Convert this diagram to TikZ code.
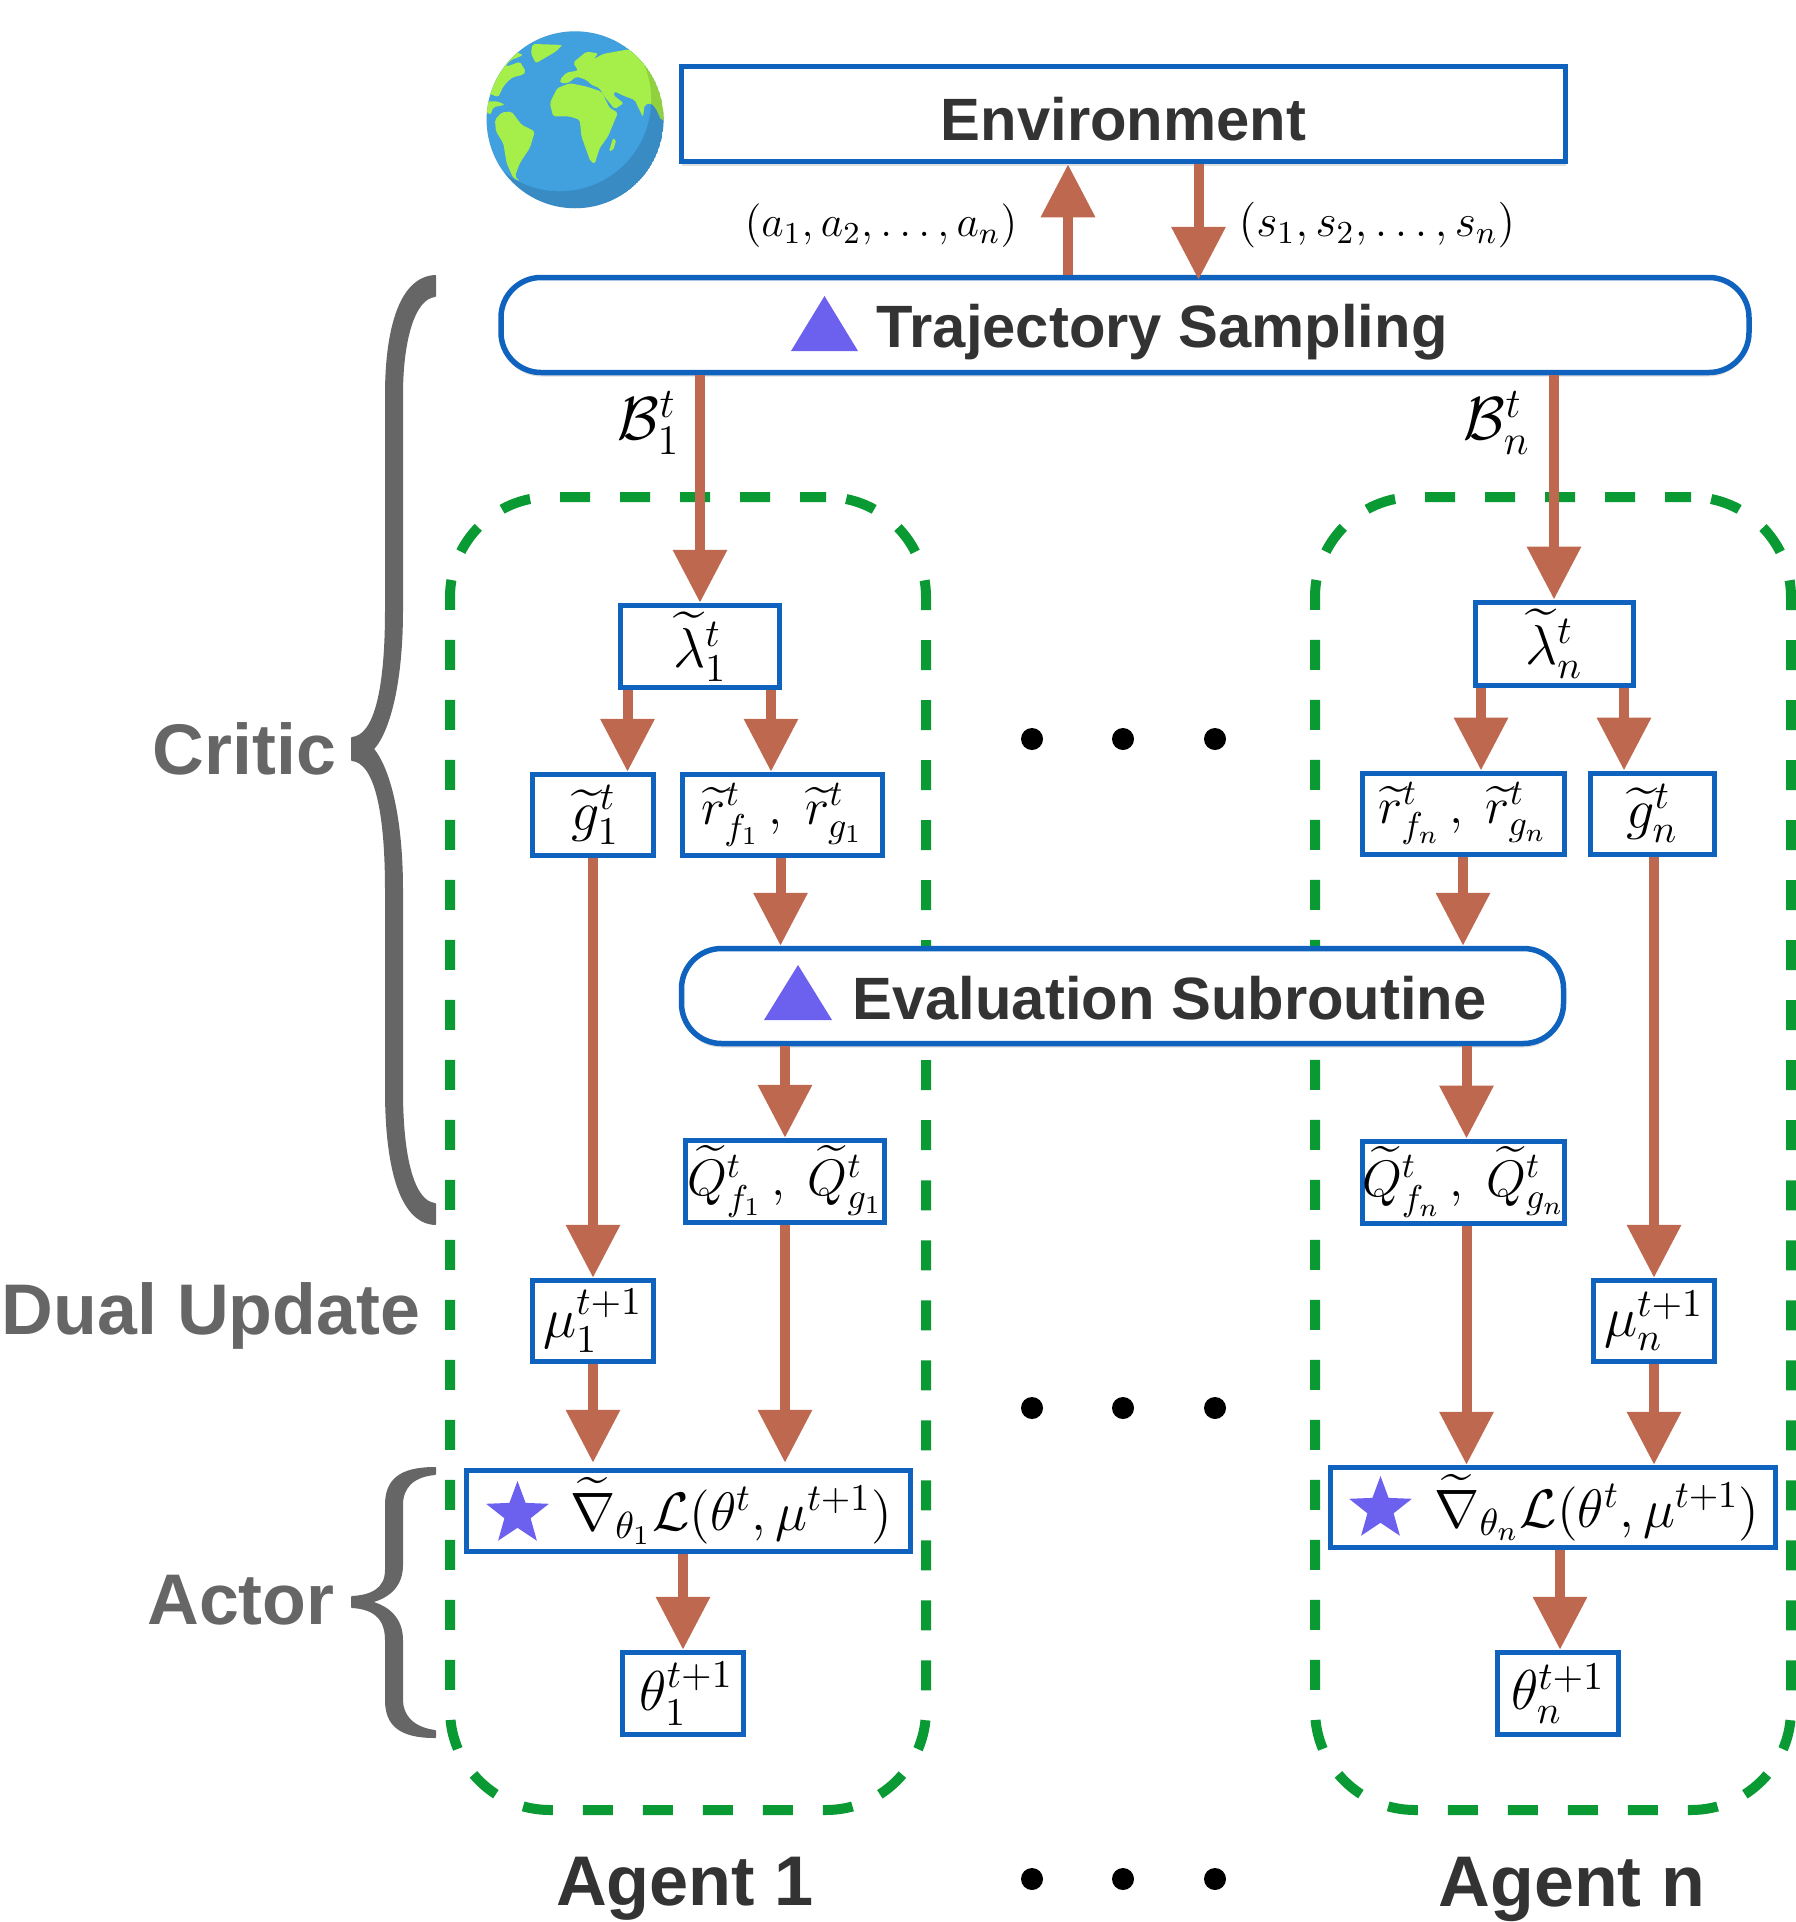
\documentclass[tikz,border=0pt]{standalone}
\usepackage{fix-cm}
\usepackage{amsmath, amssymb}
\usepackage[no-math]{fontspec}
\setmainfont{Liberation Sans}
\usepackage{tikz}
\usetikzlibrary{positioning, arrows.meta, shapes.geometric, shadows}
\usepackage{xcolor}

\definecolor{boxblue}{HTML}{0F63BE}
\definecolor{flowred}{HTML}{BF6850}
\definecolor{agentgreen}{HTML}{0A9A33}
\definecolor{titlegray}{HTML}{333333}
\definecolor{bracegray}{HTML}{666666}
\definecolor{markviolet}{HTML}{6C60EE}
\definecolor{oceanblue}{HTML}{41A0DE}
\definecolor{landgreen}{HTML}{A6EE49}

\tikzset{
    flow/.style={-{Triangle[length=5.3mm,width=5.2mm]}, line width=1mm, flowred},
    mathbox/.style={draw=boxblue, fill=white, line width=0.5mm, inner sep=0pt, font=\fontsize{16}{19}\selectfont},
    pairbox/.style={mathbox, font=\fontsize{14.6}{18}\selectfont},
    gradbox/.style={mathbox, font=\fontsize{15.4}{18}\selectfont},
    bigbox/.style={draw=boxblue, fill=white, line width=0.55mm, inner sep=0pt, text=titlegray,
        font=\fontsize{17}{20}\selectfont\bfseries, minimum height=0.95cm, text depth=0cm,
        drop shadow={shadow xshift=0cm, shadow yshift=-0.04cm, opacity=0.25}},
    agentbox/.style={draw=agentgreen, line width=1mm, rounded corners=1cm, inner sep=0pt,
        dash pattern=on 0.3cm off 0.3cm, dash phase=0.04cm, minimum width=4.76cm, minimum height=13.13cm},
    sidetitle/.style={text=bracegray, font=\fontsize{20.4}{24}\selectfont\bfseries},
    agenttitle/.style={text=titlegray, font=\fontsize{20.4}{24}\selectfont\bfseries},
    starmark/.style={star, star points=5, star point ratio=2.4, fill=markviolet, inner sep=0pt, minimum size=0.66cm},
}

\begin{document}
\begin{tikzpicture}[x=1cm, y=-1cm]
    \useasboundingbox (0,0) rectangle (17.96,19.22);

    % globe
    \begin{scope}[shift={(4.7,0.2)}, x=0.003333cm, y=-0.003333cm]
        \clip (316,300) circle (266);
        \fill[oceanblue] (316,300) circle (266);
        \begin{scope}[landgreen, rounded corners=0.02cm]
            \fill (0,270) -- (0,60) -- (185,60) -- (160,82) -- (135,95) -- (160,105) -- (145,112) -- (120,122) -- (107,140)
                -- (125,135) -- (150,125) -- (168,155) -- (160,165) -- (135,170) -- (120,178) -- (100,200) -- (85,232)
                -- (60,222) -- (52,245) -- (85,245) -- (105,255) -- (70,262) -- (62,285) -- (40,270) -- cycle;
            \fill (188,72) -- (278,75) -- (258,95) -- (198,130) -- (183,100) -- cycle;
            \fill (75,300) -- (95,278) -- (125,275) -- (155,315) -- (195,335) -- (180,385) -- (150,430) -- (135,470)
                -- (150,485) -- (130,475) -- (110,430) -- (100,370) -- (78,335) -- cycle;
            \fill (240,250) -- (262,205) -- (300,190) -- (350,200) -- (395,215) -- (420,265) -- (445,278) -- (415,350)
                -- (390,385) -- (375,432) -- (362,425) -- (335,350) -- (330,300) -- (300,290) -- (250,290) -- cycle;
            \fill (430,355) -- (440,360) -- (430,392) -- (418,395) -- cycle;
            \fill (270,180) -- (290,158) -- (325,152) -- (310,128) -- (350,95) -- (385,100) -- (372,118) -- (400,102)
                -- (478,88) -- (600,170) -- (600,300) -- (575,302) -- (560,268) -- (545,250) -- (525,255) -- (520,292)
                -- (495,240) -- (462,228) -- (435,215) -- (430,225) -- (462,250) -- (435,268) -- (400,225) -- (390,205)
                -- (365,195) -- (350,180) -- (320,170) -- (295,190) -- (272,190) -- cycle;
        \end{scope}
        \fill[black, opacity=0.12, even odd rule] (316,300) circle (266) (270,240) circle (275);
    \end{scope}

    % dashed agent groups
    \node[agentbox] (agent1) at (6.88,11.535) {};
    \node[agentbox] (agentn) at (15.53,11.535) {};

    % shared boxes
    \node[bigbox, minimum width=8.84cm, text height=0.52cm] (env) at (11.235,1.14) {Environment};
    \node[bigbox, minimum width=12.48cm, rounded corners=0.4cm, text height=0.44cm] (traj) at (11.25,3.25) {\hspace*{0.74cm}Trajectory Sampling};
    \node[bigbox, minimum width=8.82cm, rounded corners=0.4cm, text height=0.47cm] (eval) at (11.225,9.96) {\hspace*{0.94cm}Evaluation Subroutine};
    \fill[markviolet] (7.91,3.51) -- (8.58,3.51) -- (8.245,2.96) -- cycle;
    \fill[markviolet] (7.64,10.20) -- (8.32,10.20) -- (7.98,9.65) -- cycle;

    % agent 1
    \node[mathbox, minimum width=1.585cm, minimum height=0.825cm] (lambda1) at (7.00,6.465) {$\widetilde{\lambda}_1^t$};
    \node[mathbox, minimum width=1.215cm, minimum height=0.815cm] (g1) at (5.93,8.15) {\hspace*{0.05cm}$\widetilde{g}_1^t$};
    \node[pairbox, minimum width=2.005cm, minimum height=0.815cm] (r1) at (7.825,8.15) {$\widetilde{r}_{f_1}^t\,,\ \widetilde{r}_{g_1}^t$};
    \node[pairbox, minimum width=1.995cm, minimum height=0.825cm] (Q1) at (7.85,11.815) {$\widetilde{Q}_{f_1}^t\,,\ \widetilde{Q}_{g_1}^t$};
    \node[mathbox, minimum width=1.215cm, minimum height=0.815cm] (mu1) at (5.93,13.21) {$\mu_1^{t+1}$};
    \node[gradbox, minimum width=4.445cm, minimum height=0.815cm] (grad1) at (6.885,15.11)
        {\hspace*{0.85cm}$\widetilde{\nabla}_{\theta_1}\mathcal{L}(\theta^t, \mu^{t+1})$};
    \node[mathbox, minimum width=1.215cm, minimum height=0.825cm] (theta1) at (6.83,16.935) {\hspace*{0.07cm}$\theta_1^{t+1}$};
    \node[starmark] (star1) at (5.175,15.14) {};

    % agent n
    \node[mathbox, minimum width=1.58cm, minimum height=0.83cm] (lambdan) at (15.54,6.435) {$\widetilde{\lambda}_n^t$};
    \node[pairbox, minimum width=2.02cm, minimum height=0.81cm] (rn) at (14.63,8.135) {$\widetilde{r}_{f_n}^t\,,\ \widetilde{r}_{g_n}^t$};
    \node[mathbox, minimum width=1.24cm, minimum height=0.81cm] (gn) at (16.52,8.135) {$\widetilde{g}_n^t$};
    \node[pairbox, minimum width=2.01cm, minimum height=0.82cm] (Qn) at (14.635,11.82) {$\widetilde{Q}_{f_n}^t\,,\ \widetilde{Q}_{g_n}^t$};
    \node[mathbox, minimum width=1.215cm, minimum height=0.815cm] (mun) at (16.54,13.21) {$\mu_n^{t+1}$};
    \node[gradbox, minimum width=4.455cm, minimum height=0.805cm] (gradn) at (15.53,15.075)
        {\hspace*{0.88cm}$\widetilde{\nabla}_{\theta_n}\mathcal{L}(\theta^t, \mu^{t+1})$};
    \node[mathbox, minimum width=1.215cm, minimum height=0.825cm] (thetan) at (15.58,16.935) {$\theta_n^{t+1}$};
    \node[starmark] (starn) at (13.805,15.09) {};

    % sampling arrows
    \draw[flow] ([xshift=-0.57cm]traj.north) -- ([xshift=-0.57cm]traj.north |- env.south);
    \draw[flow, shorten >=-0.5mm] ([xshift=0.75cm]env.south) -- ([xshift=0.75cm]env.south |- traj.north);
    \draw[flow] (traj.south -| lambda1.north) -- (lambda1.north);
    \draw[flow] (traj.south -| lambdan.north) -- (lambdan.north);

    % arrows of agent 1
    \draw[flow] ([xshift=-0.725cm]lambda1.south) -- ([xshift=-0.725cm]lambda1.south |- g1.north);
    \draw[flow] ([xshift=0.71cm]lambda1.south) -- ([xshift=0.71cm]lambda1.south |- r1.north);
    \draw[flow] ([xshift=-0.02cm]r1.south) -- ([xshift=-0.02cm]r1.south |- eval.north);
    \draw[flow] (eval.south -| Q1.north) -- (Q1.north);
    \draw[flow] (g1.south) -- (mu1.north);
    \draw[flow, shorten >=0.5mm] (mu1.south) -- (mu1.south |- grad1.north);
    \draw[flow, shorten >=0.5mm] (Q1.south) -- (Q1.south |- grad1.north);
    \draw[flow] (grad1.south -| theta1.north) -- (theta1.north);

    % arrows of agent n
    \draw[flow] ([xshift=-0.73cm]lambdan.south) -- ([xshift=-0.73cm]lambdan.south |- rn.north);
    \draw[flow] ([xshift=0.70cm]lambdan.south) -- ([xshift=0.70cm]lambdan.south |- gn.north);
    \draw[flow] (rn.south) -- (rn.south |- eval.north);
    \draw[flow] ([xshift=0.03cm]eval.south -| Qn.north) -- ([xshift=0.03cm]Qn.north);
    \draw[flow] (gn.south -| mun.north) -- (mun.north);
    \draw[flow] ([xshift=0.03cm]Qn.south) -- ([xshift=0.03cm]Qn.south |- gradn.north);
    \draw[flow] (mun.south) -- (mun.south |- gradn.north);
    \draw[flow] ([xshift=0.02cm]gradn.south -| thetan.north) -- ([xshift=0.02cm]thetan.north);

    % labels
    \node[font=\fontsize{12.4}{15}\selectfont] (actions) at (8.81,2.26) {$(a_1, a_2, \ldots, a_n)$};
    \node[font=\fontsize{13}{16}\selectfont] (states) at (13.77,2.25) {$(s_1, s_2, \ldots, s_n)$};
    \node[font=\LARGE] (batch1) at (6.49,4.23) {$\mathcal{B}_1^t$};
    \node[font=\LARGE] (batchn) at (14.97,4.23) {$\mathcal{B}_n^t$};

    % braces
    \filldraw[bracegray, line width=0.2mm, line join=round]
        (4.35,2.76) .. controls (3.98,2.78) and (3.86,3.35) .. (3.86,3.95)
        -- (3.86,6.1) .. controls (3.86,6.9) and (3.75,7.36) .. (3.52,7.38)
        -- (3.52,7.60) .. controls (3.75,7.62) and (3.86,8.1) .. (3.86,8.9)
        -- (3.86,10.9) .. controls (3.86,11.6) and (3.98,12.22) .. (4.35,12.24)
        -- (4.35,12.04) .. controls (4.14,12.02) and (4.02,11.6) .. (4.02,10.9)
        -- (4.02,8.9) .. controls (4.02,8.2) and (3.9,7.7) .. (3.73,7.49)
        .. controls (3.9,7.3) and (4.02,6.8) .. (4.02,6.1)
        -- (4.02,3.95) .. controls (4.02,3.4) and (4.14,2.98) .. (4.35,2.96) -- cycle;
    \filldraw[bracegray, line width=0.2mm, line join=round]
        (4.35,14.68) .. controls (4.0,14.68) and (3.86,14.8) .. (3.86,15.05)
        -- (3.86,15.7) .. controls (3.86,15.9) and (3.7,15.96) .. (3.52,15.97)
        -- (3.52,16.07) .. controls (3.7,16.08) and (3.86,16.15) .. (3.86,16.4)
        -- (3.86,17.0) .. controls (3.86,17.25) and (4.0,17.37) .. (4.35,17.37)
        -- (4.35,17.31) .. controls (4.12,17.28) and (4.02,17.15) .. (4.02,17.0)
        -- (4.02,16.4) .. controls (4.02,16.2) and (3.9,16.07) .. (3.7,16.02)
        .. controls (3.9,15.97) and (4.02,15.85) .. (4.02,15.65)
        -- (4.02,15.05) .. controls (4.02,14.88) and (4.12,14.76) .. (4.35,14.74) -- cycle;

    % titles
    \node[sidetitle, anchor=east] (critic) at (3.485,7.49) {Critic};
    \node[sidetitle] (dual) at (2.11,13.16) {Dual Update};
    \node[sidetitle, anchor=east] (actor) at (3.47,16.0) {Actor};
    \node[agenttitle, font=\fontsize{20}{24}\selectfont\bfseries] (title1) at (6.85,18.89) {Agent 1};
    \node[agenttitle] (titlen) at (15.72,18.89) {Agent n};

    % dots between the agents
    \foreach \y in {7.39, 14.08, 18.79}
        \foreach \x in {10.32, 11.23, 12.15}
            \fill (\x,\y) circle (0.11);
\end{tikzpicture}
\end{document}
